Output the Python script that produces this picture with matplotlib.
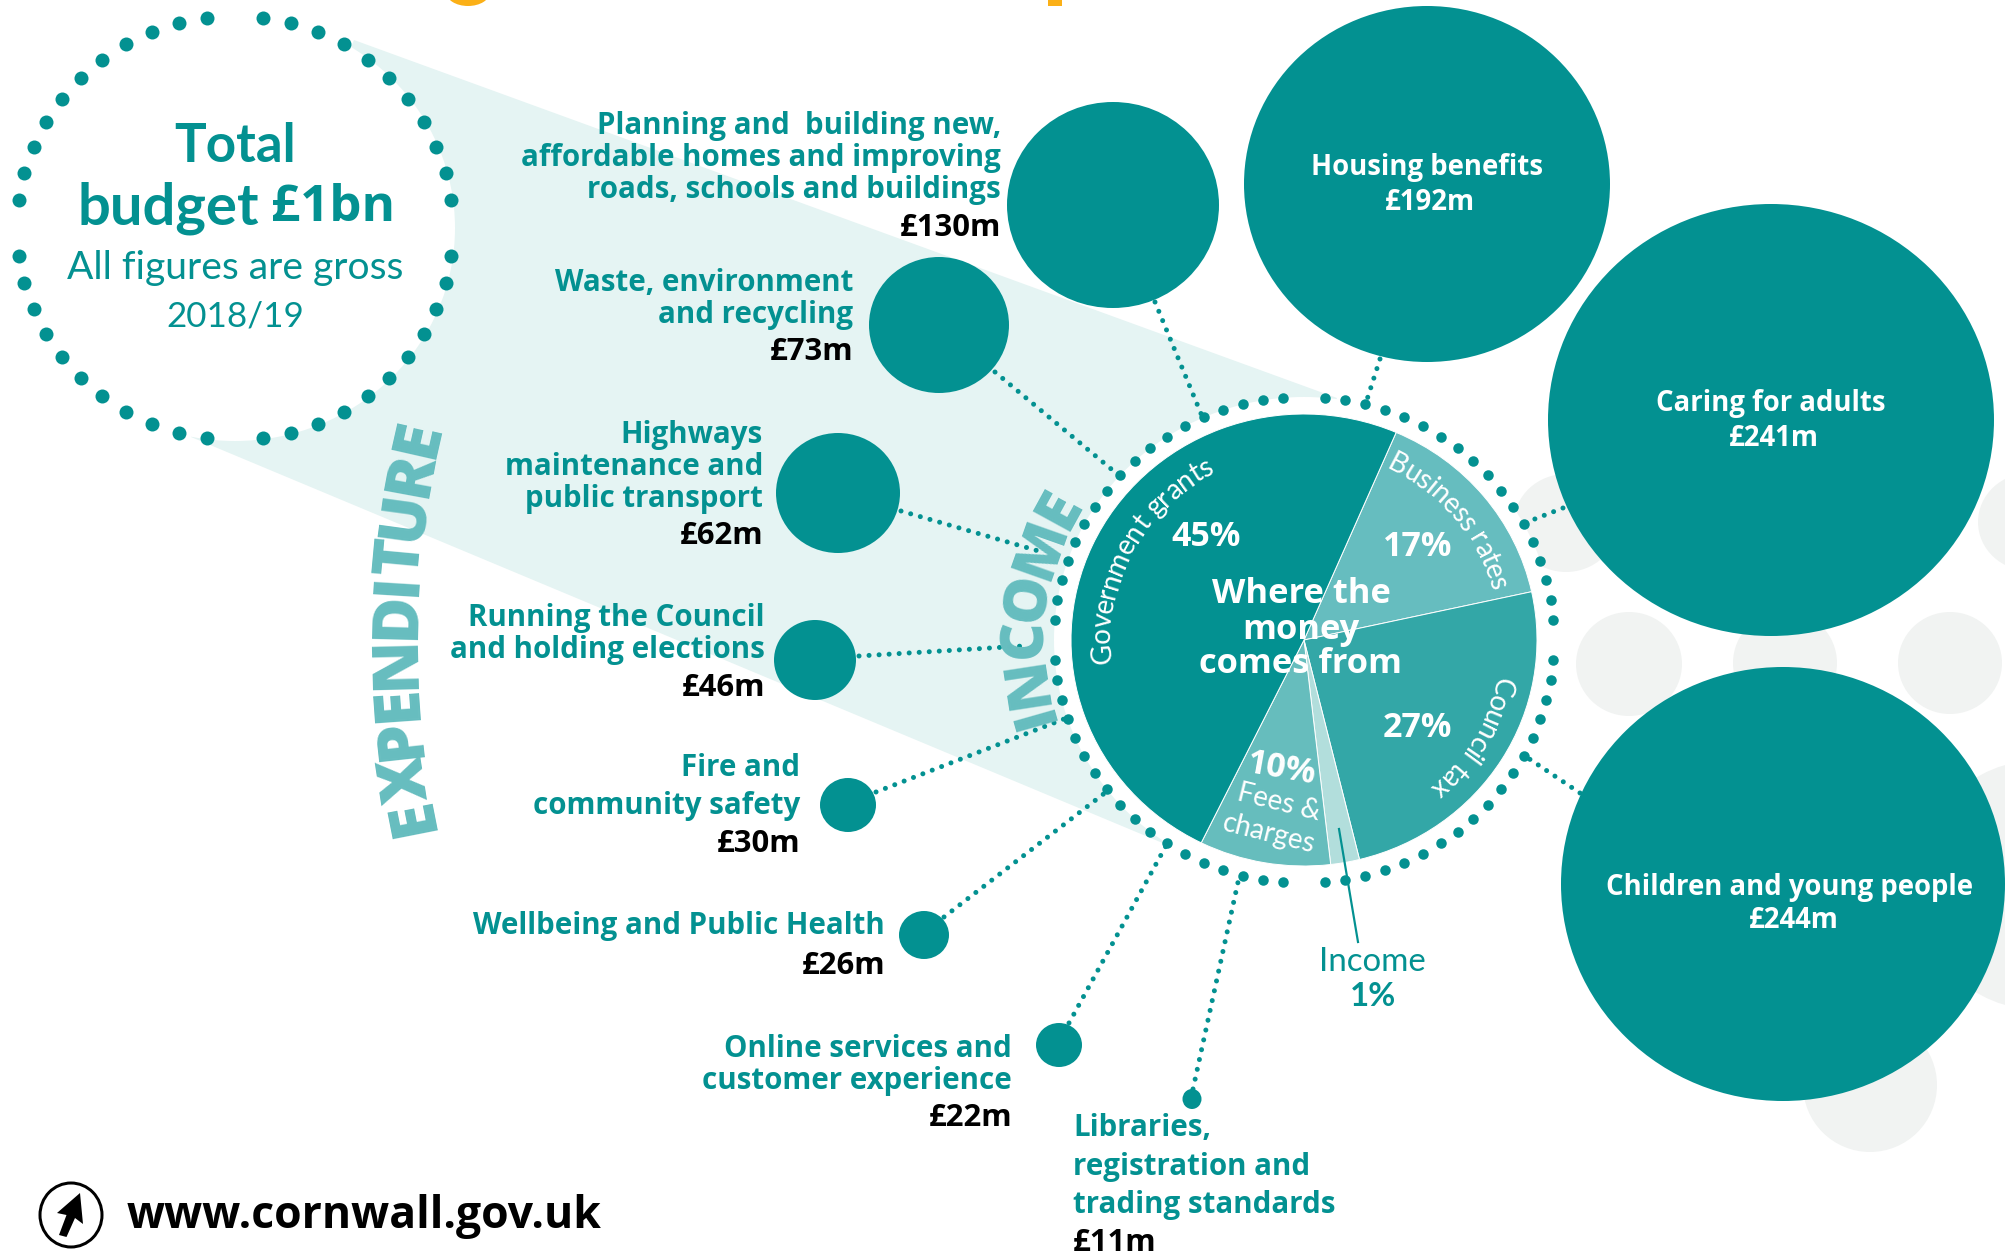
import numpy as np
import matplotlib
matplotlib.use('Agg')
import matplotlib.pyplot as plt
from matplotlib.patches import Ellipse, Polygon, Rectangle
from matplotlib.font_manager import FontProperties
from matplotlib.textpath import TextToPath

# Data
pie_names = ['Business rates', 'Council tax', 'Income', 'Fees & charges', 'Government grants']
pie_labels = [17, 27, 1, 10, 45]            # printed percentages
pie_drawn = [15.1, 24.6, 2.0, 9.1, 49.2]    # share of the circle the slices really take up

big_names = ['Housing benefits', 'Caring for adults', 'Children and young people']
big_values = [192, 241, 244]

small_names = [
    ['Planning and  building new,', 'affordable homes and improving', 'roads, schools and buildings'],
    ['Waste, environment', 'and recycling'],
    ['Highways', 'maintenance and', 'public transport'],
    ['Running the Council', 'and holding elections'],
    ['Fire and', 'community safety'],
    ['Wellbeing and Public Health'],
    ['Online services and', 'customer experience'],
]
small_values = [130, 73, 62, 46, 30, 26, 22]

lib_names = ['Libraries,', 'registration and', 'trading standards']
lib_value = 11

# Layout, in pixels of the 2005x1255 picture
TEAL = '#039191'
LIGHT = '#66bdbf'
BAND = '#e5f4f3'
GREY = '#f1f3f2'
PX = 0.72
SANS = 'Lato'
WIDE = 'Open Sans'

big_geom = [(1427, 184, 183, 178), (1771, 420, 223, 216), (1783, 884, 222, 217)]
big_text_y = [(167, 203), (404, 439), (887, 921)]
big_text_x = [(1427, 1430), (1771, 1774), (1790, 1794)]

small_geom = [(1113, 205, 106, 103), (939, 325, 70, 68), (838, 493, 62, 60), (815, 660, 41, 40),
              (848, 805, 28, 27), (924, 935, 25, 24), (1059, 1045, 23, 22)]
small_right = [1001, 853, 763, 765, 800, 885, 1012]
small_line_y = [[124, 156, 188], [281, 313], [433, 465, 497], [616, 648], [766, 804], [924], [1047, 1079]]
small_value_y = [226, 350, 534, 686, 842, 964, 1116]

links = [((1155, 302), (1202, 416)), ((1380, 359), (1364, 409)), ((1563, 508), (1522, 524)),
         ((1580, 793), (1522, 754)), ((995, 372), (1116, 473)), ((901, 511), (1042, 552)),
         ((859, 656), (1023, 646)), ((876, 792), (1064, 719)), ((944, 917), (1110, 789)),
         ((1069, 1023), (1167, 844)), ((1193, 1089), (1240, 873))]

grey_geom = [(1566, 523, 52, 49), (1629, 664, 53, 52), (1785, 663, 52, 52), (1950, 663, 52, 51),
             (2030, 522, 52, 49), (2040, 885, 125, 125), (1870, 1085, 67, 67)]

PCX, PCY, PRX, PRY = 1304, 640, 233, 226

fig = plt.figure(figsize=(20.05, 12.55), dpi=100)
ax = fig.add_axes([0, 0, 1, 1], zorder=1)
ax.set_xlim(0, 2005)
ax.set_ylim(1255, 0)
ax.axis('off')

# Cut-off heading remains
ax.add_patch(Ellipse((468, -8), 44, 28, color='#fbb017', lw=0))
ax.add_patch(Rectangle((1048, 0), 14, 6, color='#fbb017', lw=0))

ax.add_patch(Polygon([(354, 40), (1337, 398), (1165, 844), (191, 437)], color=BAND, lw=0, zorder=1))
for x, y, rx, ry in grey_geom:
    ax.add_patch(Ellipse((x, y), rx * 2, ry * 2, color=GREY, lw=0, zorder=1))

ax.add_patch(Ellipse((235, 228), 440, 426, color='white', lw=0, zorder=2))
ax.add_patch(Ellipse((PCX, PCY), 500, 486, color='white', lw=0, zorder=2))


def ring(cx, cy, rx, ry, per_quadrant, size):
    # dotted ring: one dot left out at each of the four axis positions
    step = 90 / (per_quadrant + 1)
    ang = np.radians([a for a in np.arange(0, 360, step) if round(a / step) % (per_quadrant + 1) != 0])
    ax.scatter(cx + rx * np.cos(ang), cy + ry * np.sin(ang), s=(size * PX) ** 2, color=TEAL, lw=0, zorder=3)


ring(235, 228, 218, 212, 11, 14)
ring(PCX, PCY, 250, 243, 18, 10.5)

for (x0, y0), (x1, y1) in links:
    ax.plot([x0, x1], [y0, y1], color=TEAL, lw=5 * PX, linestyle=(0, (0.01, 2)),
            dash_capstyle='round', zorder=3)

for x, y, rx, ry in big_geom + small_geom + [(1192, 1099, 9.5, 10)]:
    ax.add_patch(Ellipse((x, y), rx * 2, ry * 2, color=TEAL, lw=0, zorder=4))

# Pie in its own axes, squeezed slightly to the ellipse of the reference
pw, ph = PRX * 2 * 1.25, PRY * 2 * 1.25
pie_ax = fig.add_axes([(PCX - pw / 2) / 2005, 1 - (PCY + ph / 2) / 1255, pw / 2005, ph / 1255], zorder=2)
pie_ax.pie(pie_drawn, startangle=66.7, counterclock=False,
           colors=[LIGHT, '#33a7a7', '#b2dedc', '#66bdbd', TEAL],
           wedgeprops={'edgecolor': 'white', 'linewidth': 0.7})
pie_ax.set_aspect('auto')
pie_ax.patch.set_alpha(0)

# Text layer on top of the pie
tx = fig.add_axes([0, 0, 1, 1], zorder=3)
tx.set_xlim(0, 2005)
tx.set_ylim(1255, 0)
tx.axis('off')
tx.patch.set_alpha(0)
tx.plot([1339, 1358], [829, 942], color=TEAL, lw=2.2 * PX)


def label(x, y, s, px, color=TEAL, ha='center', weight='bold', family=SANS, rot=0, va='center'):
    return tx.text(x, y, s, fontsize=px * PX, color=color, ha=ha, va=va, fontweight=weight,
                   family=family, rotation=rot, rotation_mode='anchor')


t2p = TextToPath()


def arc_text(s, cx, cy, rx, ry, start, end, px, color, weight='normal', family=SANS):
    # letters one by one along an arc, clockwise, tops pointing outward
    prop = FontProperties(family=family, weight=weight, size=px * PX)
    w = [t2p.get_text_width_height_descent(s[:i], prop, False)[0] for i in range(len(s) + 1)]
    w = np.array(w) / w[-1]
    for i, ch in enumerate(s):
        th = start + (end - start) * (w[i] + w[i + 1]) / 2
        rad = np.radians(th)
        tx.text(cx + rx * np.cos(rad), cy - ry * np.sin(rad), ch, fontsize=px * PX, color=color,
                fontweight=weight, family=family, ha='center', va='baseline',
                rotation=th - 90, rotation_mode='anchor')


arc_text('EXPENDITURE', PCX, PCY, 890, 890, 192.2, 166.2, 64, LIGHT, weight='heavy', family=WIDE)
arc_text('INCOME', PCX, PCY, 262, 256, 198, 148, 60, LIGHT, weight='heavy', family=WIDE)
arc_text('Government grants', PCX, PCY, 194, 188, 187, 117, 28, 'white', weight='normal')
arc_text('Business rates', PCX, PCY, 194, 189, 65, 15, 28, 'white', weight='normal')
arc_text('Council tax', PCX, PCY, 195, 190, -11, -50, 28, 'white', weight='normal')

# Text of the pie
for x, y, v in [(1418, 547, pie_labels[0]), (1417, 728, pie_labels[1]), (1206, 537, pie_labels[4])]:
    label(x, y, f'{v}%', 34, color='white', family=WIDE)
label(1282, 769, f'{pie_labels[3]}%', 34, color='white', rot=-10, family=WIDE)
label(1279, 802, 'Fees &', 28, color='white', weight='normal', rot=-14)
label(1269, 834, 'charges', 28, color='white', weight='normal', rot=-14)
label(1301, 594, 'Where the', 34.5, color='white', family=WIDE)
label(1301, 630, 'money', 34.5, color='white', family=WIDE)
label(1301, 664, 'comes from', 34.5, color='white', family=WIDE)
label(1372, 962, 'Income', 33, weight='normal')
label(1373, 997, f'{pie_labels[2]}%', 33)

# Total budget
label(235, 146, 'Total', 53)
label(259, 208, 'budget', 58, ha='right')
label(271, 208, '£1bn', 51, ha='left', family=WIDE)
label(235, 268, 'All figures are gross', 39, weight='normal')
label(235, 317, '2018/19', 35, weight='normal')

# Big circles
for name, v, (xa, xb), (ya, yb) in zip(big_names, big_values, big_text_x, big_text_y):
    label(xa, ya, name, 27.5, color='white', family=WIDE)
    label(xb, yb, f'£{v}m', 27.5, color='white', family=WIDE)

# Left hand labels
for lines, v, xr, ys, yv in zip(small_names, small_values, small_right, small_line_y, small_value_y):
    for s, y in zip(lines, ys):
        label(xr, y + 10, s, 29.5, ha='right', va='baseline', family=WIDE)
    label(xr, yv + 10, f'£{v}m', 31, color='black', ha='right', va='baseline', family=WIDE)

for s, y in zip(lib_names, [1126, 1165, 1203]):
    label(1073, y + 10, s, 29.5, ha='left', va='baseline', family=WIDE)
label(1073, 1251, f'£{lib_value}m', 31, color='black', ha='left', va='baseline', family=WIDE)

# Web address and arrow logo
tx.add_patch(Ellipse((71, 1215), 62, 64, fill=False, ec='black', lw=3 * PX))
tx.add_patch(Polygon([(80, 1193), (57, 1213), (66.5, 1215), (59, 1235), (66.5, 1237), (75, 1218), (83, 1224)],
                     color='black', lw=0))
label(127, 1228, 'www.cornwall.gov.uk', 44.5, color='black', ha='left', va='baseline', family=WIDE)

fig.savefig('out.png', dpi=100)
